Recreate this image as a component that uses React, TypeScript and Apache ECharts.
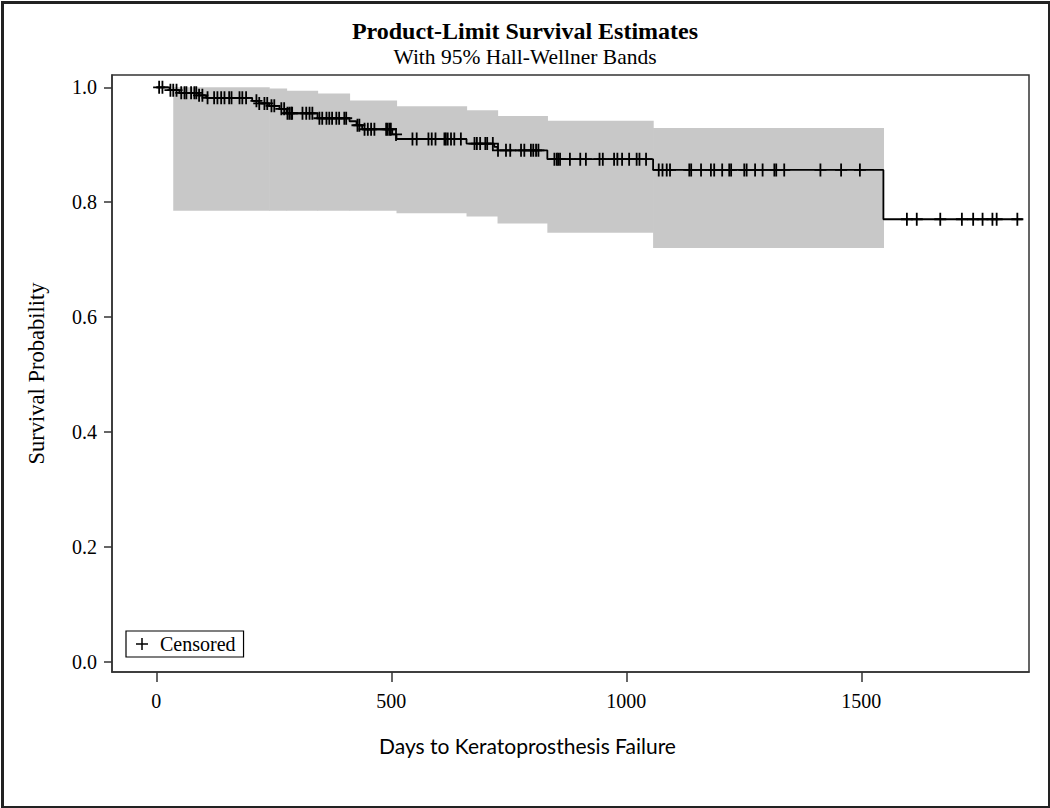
import React, { useEffect, useRef } from "react";
import * as echarts from "echarts";

// ---- Data ----
const titleText = "Product-Limit Survival Estimates";
const subtitleText = "With 95% Hall-Wellner Bands";
const xAxisTitle = "Days to Keratoprosthesis Failure";
const yAxisTitle = "Survival Probability";
const legendLabel = "Censored";

const xTickValues = [0, 500, 1000, 1500];
const yTickValues = [0, 0.2, 0.4, 0.6, 0.8, 1.0];

// Kaplan-Meier step curve: event times (days) and survival after each event
const eventTimes = [28, 49, 91, 106, 204, 219, 240, 262, 277, 343, 411, 426, 438, 502, 511, 660, 719, 726, 832, 1057, 1547];
const survivalAfter = [0.995, 0.9904, 0.986, 0.9817, 0.9765, 0.972, 0.9678, 0.9626, 0.9548, 0.9461, 0.9409, 0.934, 0.927, 0.918, 0.91, 0.902, 0.8965, 0.8904, 0.875, 0.8563, 0.7704];
const curveEnd = 1843;

// Censored observation times (days)
const censorTimes = [
  6, 13, 30, 36, 43, 53, 60, 64, 74, 81, 85, 91, 98, 109, 123, 130, 138, 145, 155, 160,
  177, 183, 191, 213, 219, 230, 236, 245, 251, 266, 272, 279, 283, 287, 289, 311, 319, 326, 332,
  347, 353, 362, 368, 374, 383, 389, 400, 404, 428, 432, 443, 450, 457, 464, 489, 492, 496, 499, 510,
  545, 554, 579, 586, 594, 613, 616, 620, 627, 634, 648, 677, 682, 689, 700, 704, 716, 727,
  744, 753, 776, 783, 797, 802, 808, 813, 847, 852, 855, 859, 880, 902, 914, 943, 950, 974, 981, 991,
  1006, 1022, 1028, 1042, 1069, 1077, 1086, 1093, 1134, 1138, 1159, 1180, 1187, 1204, 1219, 1223,
  1251, 1256, 1274, 1290, 1315, 1319, 1336, 1413, 1457, 1497,
  1597, 1618, 1668, 1714, 1738, 1758, 1779, 1788, 1832,
];

// Hall-Wellner band: start of each interval, with its lower and upper limits
const bandStarts = [36, 240, 277, 343, 411, 511, 660, 726, 832, 1057];
const bandUpper = [1.0, 0.998, 0.994, 0.989, 0.977, 0.967, 0.96, 0.95, 0.942, 0.929];
const bandLower = [0.785, 0.785, 0.785, 0.785, 0.785, 0.781, 0.775, 0.763, 0.747, 0.7205];
const bandEnd = 1547;

// ---- Helpers ----
const survivalAt = (t: number): number => {
  let s = 1;
  for (let i = 0; i < eventTimes.length; i++) {
    if (eventTimes[i] <= t) s = survivalAfter[i];
  }
  return s;
};

const PLUS = "path://M-0.9,-6.5H0.9V-0.9H6V0.9H0.9V6.5H-0.9V0.9H-6V-0.9H-0.9Z";
const LEGEND_PLUS = "path://M-0.75,-6H0.75V-0.75H6V0.75H0.75V6H-0.75V0.75H-6V-0.75H-0.75Z";
const SERIF = "'Liberation Serif', 'Times New Roman', serif";

export default function App() {
  const ref = useRef<HTMLDivElement>(null);

  useEffect(() => {
    if (!ref.current) return;
    const chart = echarts.init(ref.current, null, { renderer: "svg" });

    const curveData: number[][] = [[0, 1]];
    eventTimes.forEach((t, i) => curveData.push([t, survivalAfter[i]]));
    curveData.push([curveEnd, survivalAfter[survivalAfter.length - 1]]);

    const censorData = censorTimes.map((t) => [t, survivalAt(t)]);

    const bandData = bandStarts.map((t, i) => [
      t,
      i + 1 < bandStarts.length ? bandStarts[i + 1] : bandEnd,
      bandLower[i],
      bandUpper[i],
    ]);

    const option: any = {
      animation: false,
      backgroundColor: "#ffffff",
      title: {
        text: titleText,
        subtext: subtitleText,
        left: "center",
        top: 13,
        itemGap: 2,
        textStyle: {
          fontFamily: SERIF,
          fontWeight: "bold",
          fontSize: 24,
          color: "#000",
          lineHeight: 26,
        },
        subtextStyle: {
          fontFamily: SERIF,
          fontSize: 21.5,
          color: "#000",
          lineHeight: 22,
        },
      },
      legend: {
        left: 126,
        top: 631,
        orient: "horizontal",
        padding: [3, 8, 3, 10],
        borderColor: "#000",
        borderWidth: 1.2,
        itemWidth: 12,
        itemHeight: 12,
        data: [{ name: legendLabel, icon: LEGEND_PLUS }],
        textStyle: {
          fontFamily: SERIF,
          fontSize: 20,
          color: "#000",
          padding: [0, 0, 0, 7],
        },
      },
      grid: {
        left: 112,
        top: 75,
        width: 917,
        height: 597,
        show: true,
        borderColor: "#333",
        borderWidth: 1.5,
        containLabel: false,
      },
      xAxis: {
        type: "value",
        min: -94.3,
        max: 1856.8,
        name: xAxisTitle,
        nameLocation: "middle",
        nameGap: 63,
        nameTextStyle: {
          fontFamily: "Lato, 'Open Sans', sans-serif",
          fontSize: 21,
          color: "#000",
          padding: [0, 86, 0, 0],
        },
        splitLine: { show: false },
        axisLine: { show: true, onZero: false, lineStyle: { color: "#333", width: 1.5 } },
        axisTick: {
          show: true,
          length: 10,
          customValues: xTickValues,
          lineStyle: { color: "#333", width: 1.5 },
        },
        axisLabel: {
          customValues: xTickValues,
          margin: 19,
          fontFamily: SERIF,
          fontSize: 20,
          color: "#000",
          formatter: (v: number) => String(v),
        },
      },
      yAxis: {
        type: "value",
        min: -0.0174,
        max: 1.0214,
        name: yAxisTitle,
        nameLocation: "middle",
        nameGap: 64,
        nameTextStyle: {
          fontFamily: SERIF,
          fontSize: 22.5,
          color: "#000",
        },
        splitLine: { show: false },
        axisLine: { show: true, onZero: false, lineStyle: { color: "#333", width: 1.5 } },
        axisTick: {
          show: true,
          length: 8,
          customValues: yTickValues,
          lineStyle: { color: "#333", width: 1.5 },
        },
        axisLabel: {
          customValues: yTickValues,
          margin: 15,
          fontFamily: SERIF,
          fontSize: 20,
          color: "#000",
          formatter: (v: number) => v.toFixed(1),
        },
      },
      graphic: [
        {
          type: "rect",
          left: 0,
          top: 0,
          shape: { x: 1.5, y: 1.5, width: 1047, height: 805 },
          style: { fill: "none", stroke: "#222", lineWidth: 3 },
          silent: true,
        },
      ],
      series: [
        {
          type: "custom",
          name: "band",
          z: 1,
          silent: true,
          data: bandData,
          encode: { x: [0, 1], y: [2, 3] },
          renderItem: (params: any, api: any) => {
            const p0 = api.coord([api.value(0), api.value(3)]);
            const p1 = api.coord([api.value(1), api.value(2)]);
            return {
              type: "rect",
              shape: {
                x: p0[0],
                y: p0[1],
                width: p1[0] - p0[0] + 0.6,
                height: p1[1] - p0[1],
              },
              style: { fill: "#c8c8c8" },
            };
          },
        },
        {
          type: "line",
          name: "Survival",
          z: 3,
          step: "end",
          showSymbol: false,
          symbol: "none",
          silent: true,
          data: curveData,
          lineStyle: { color: "#000", width: 1.8 },
        },
        {
          type: "scatter",
          name: legendLabel,
          z: 4,
          silent: true,
          symbol: PLUS,
          symbolSize: [12, 13],
          data: censorData,
          itemStyle: { color: "#000", opacity: 1 },
        },
      ],
    };

    chart.setOption(option);
    return () => chart.dispose();
  }, []);

  return (
    <div
      ref={ref}
      style={{ position: "fixed", left: 0, top: 0, width: 1050, height: 808 }}
    />
  );
}
